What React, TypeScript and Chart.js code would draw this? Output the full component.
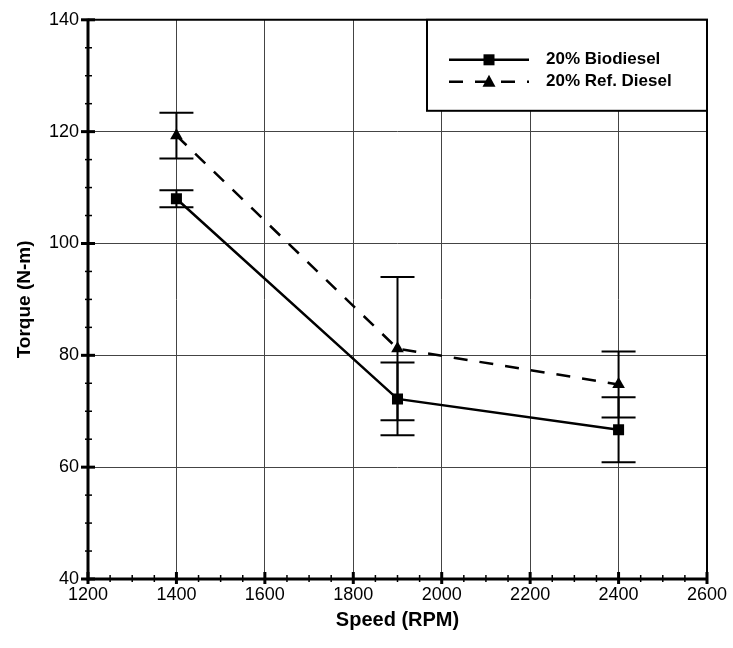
import React, { useEffect, useRef } from "react";
import { Chart, registerables } from "chart.js";

Chart.register(...registerables);

const speeds = [1400, 1900, 2400];
const biodieselTorque = [108.0, 72.2, 66.7];
const biodieselError = [1.5, 6.5, 5.8];
const refDieselTorque = [119.3, 81.2, 74.8];
const refDieselError = [4.1, 12.8, 5.9];
const seriesLabels = ["20% Biodiesel", "20% Ref. Diesel"];
const xTitle = "Speed (RPM)";
const yTitle = "Torque (N-m)";
const xMin = 1200, xMax = 2600, xStep = 200, xMinor = 50;
const yMin = 40, yMax = 140, yStep = 20, yMinor = 5;

const FONT = "'Liberation Sans', Arial, sans-serif";

const errorBarPlugin = {
  id: "errorBars",
  beforeDatasetsDraw(chart: any) {
    const ctx = chart.ctx;
    const xs = chart.scales.x;
    const ys = chart.scales.y;
    const errs = [biodieselError, refDieselError];
    ctx.save();
    ctx.strokeStyle = "#000";
    ctx.lineWidth = 2;
    chart.data.datasets.forEach((ds: any, i: number) => {
      ds.data.forEach((pt: any, j: number) => {
        const x = xs.getPixelForValue(pt.x);
        const yt = ys.getPixelForValue(pt.y + errs[i][j]);
        const yb = ys.getPixelForValue(pt.y - errs[i][j]);
        ctx.beginPath();
        ctx.moveTo(x, yt);
        ctx.lineTo(x, yb);
        ctx.moveTo(x - 17, yt);
        ctx.lineTo(x + 17, yt);
        ctx.moveTo(x - 17, yb);
        ctx.lineTo(x + 17, yb);
        ctx.stroke();
      });
    });
    ctx.restore();
  },
};

const framePlugin = {
  id: "frameTicks",
  afterDatasetsDraw(chart: any) {
    const ctx = chart.ctx;
    const { left, right, top, bottom } = chart.chartArea;
    const xs = chart.scales.x;
    const ys = chart.scales.y;
    ctx.save();
    ctx.strokeStyle = "#000";
    ctx.lineWidth = 2;
    ctx.beginPath();
    ctx.moveTo(left, top);
    ctx.lineTo(right, top);
    ctx.lineTo(right, bottom);
    ctx.stroke();
    ctx.lineWidth = 3;
    ctx.beginPath();
    ctx.moveTo(left, top - 1);
    ctx.lineTo(left, bottom);
    ctx.lineTo(right + 1, bottom);
    ctx.stroke();
    for (let v = xMin; v <= xMax; v += xMinor) {
      const x = xs.getPixelForValue(v);
      const major = (v - xMin) % xStep === 0;
      ctx.lineWidth = major ? 3 : 1.5;
      ctx.beginPath();
      ctx.moveTo(x, bottom - (major ? 7 : 4));
      ctx.lineTo(x, bottom + (major ? 5 : 3));
      ctx.stroke();
    }
    for (let v = yMin; v <= yMax; v += yMinor) {
      const y = ys.getPixelForValue(v);
      const major = (v - yMin) % yStep === 0;
      ctx.lineWidth = major ? 3 : 1.5;
      ctx.beginPath();
      ctx.moveTo(left - (major ? 7 : 3), y);
      ctx.lineTo(left + (major ? 7 : 4), y);
      ctx.stroke();
    }
    ctx.restore();
  },
};

const legendPlugin = {
  id: "boxLegend",
  afterDraw(chart: any) {
    const ctx = chart.ctx;
    const { right, top } = chart.chartArea;
    const w = 280, h = 91;
    const bx = right - w, by = top;
    ctx.save();
    ctx.fillStyle = "#fff";
    ctx.fillRect(bx, by, w, h);
    ctx.strokeStyle = "#000";
    ctx.lineWidth = 2;
    ctx.strokeRect(bx, by, w, h);
    chart.data.datasets.forEach((ds: any, i: number) => {
      const y = by + 40 + i * 22;
      const x0 = bx + 22, x1 = bx + 102, xm = bx + 62;
      ctx.strokeStyle = "#000";
      ctx.lineWidth = 2.5;
      ctx.setLineDash(i === 1 ? [14, 12] : []);
      ctx.beginPath();
      ctx.moveTo(x0, y);
      ctx.lineTo(x1, y);
      ctx.stroke();
      ctx.setLineDash([]);
      ctx.fillStyle = "#000";
      if (i === 0) {
        ctx.fillRect(xm - 5.5, y - 5.5, 11, 11);
      } else {
        ctx.beginPath();
        ctx.moveTo(xm, y - 7);
        ctx.lineTo(xm + 6.5, y + 5);
        ctx.lineTo(xm - 6.5, y + 5);
        ctx.closePath();
        ctx.fill();
      }
      ctx.font = `bold 17px ${FONT}`;
      ctx.textBaseline = "middle";
      ctx.textAlign = "left";
      ctx.fillText(ds.label, bx + 119, y);
    });
    ctx.restore();
  },
};

export default function App() {
  const ref = useRef<HTMLCanvasElement | null>(null);
  useEffect(() => {
    if (!ref.current) return;
    const chart = new Chart(ref.current, {
      type: "line",
      data: {
        datasets: [
          {
            label: seriesLabels[0],
            data: speeds.map((s, i) => ({ x: s, y: biodieselTorque[i] })),
            borderColor: "#000",
            backgroundColor: "#000",
            borderWidth: 2.5,
            pointStyle: "rect",
            pointRadius: 7.8,
            pointBorderWidth: 0,
            tension: 0,
          },
          {
            label: seriesLabels[1],
            data: speeds.map((s, i) => ({ x: s, y: refDieselTorque[i] })),
            borderColor: "#000",
            backgroundColor: "#000",
            borderWidth: 2.5,
            borderDash: [14, 12],
            pointStyle: "triangle",
            pointRadius: 7.3,
            pointBorderWidth: 0,
            tension: 0,
          },
        ],
      },
      options: {
        responsive: false,
        animation: false,
        layout: { padding: { left: 0, top: 18, right: 26, bottom: 0 } },
        plugins: {
          legend: { display: false },
          tooltip: { enabled: false },
        },
        scales: {
          x: {
            type: "linear",
            min: xMin,
            max: xMax,
            ticks: {
              stepSize: xStep,
              color: "#000",
              font: { family: FONT, size: 18 },
              padding: 5,
              maxRotation: 0,
              callback: (v: any) => String(v),
            },
            grid: { color: "#444", lineWidth: 1, drawTicks: false },
            border: { display: false },
            title: {
              display: true,
              text: xTitle,
              color: "#000",
              font: { family: FONT, size: 20, weight: "bold" },
              padding: { top: 0, bottom: 16 },
            },
            afterFit: (s: any) => {
              s.height = 69;
            },
          },
          y: {
            type: "linear",
            min: yMin,
            max: yMax,
            ticks: {
              stepSize: yStep,
              color: "#000",
              font: { family: FONT, size: 18 },
              padding: 9,
              callback: (v: any) => String(v),
            },
            grid: { color: "#444", lineWidth: 1, drawTicks: false },
            border: { display: false },
            title: {
              display: true,
              text: yTitle,
              color: "#000",
              font: { family: FONT, size: 19, weight: "bold" },
              padding: { top: 13, bottom: 0 },
            },
            afterFit: (s: any) => {
              s.width = 88;
            },
          },
        },
      },
      plugins: [errorBarPlugin, framePlugin, legendPlugin],
    });
    return () => chart.destroy();
  }, []);
  return (
    <canvas
      ref={ref}
      width={733}
      height={648}
      style={{ position: "fixed", left: 0, top: 0, display: "block", background: "#fff" }}
    />
  );
}
